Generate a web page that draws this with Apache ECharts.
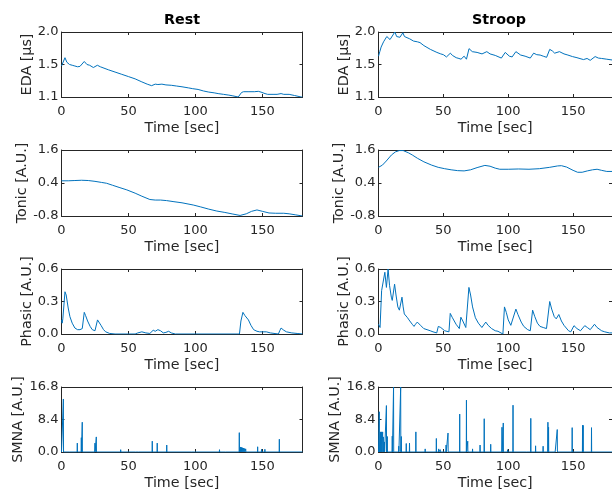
<!DOCTYPE html>
<html><head><meta charset="utf-8">
<script src="https://cdn.jsdelivr.net/npm/echarts@6/dist/echarts.min.js"></script>
<style>html,body{margin:0;padding:0;background:#fff}#c{width:612px;height:491px}</style>
</head><body><div id="c"></div><script>
// ---- data ----
var columnTitles = ['Rest', 'Stroop'];
var xLabel = 'Time [sec]';
var xTicks = [0, 50, 100, 150];
var xRange = [0, 180];

var rowNames = ['EDA [μs]', 'Tonic [A.U.]', 'Phasic [A.U.]', 'SMNA [A.U.]'];
var edaTicks = [1.1, 1.53, 1.96];
var tonicTicks = [-0.8, 0.4, 1.6];
var phasicTicks = [0.0, 0.3, 0.6];
var smnaTicks = [0.0, 8.4, 16.8];

var restEDA = [[0,1.51],[1,1.50],[2.6,1.62],[4,1.56],[6,1.53],[8,1.52],[10,1.51],[12,1.50],[13.8,1.505],[15,1.50],[17,1.57],[19,1.53],[21,1.52],[23.8,1.49],[26.8,1.52],[29,1.50],[35,1.46],[40,1.43],[45,1.40],[50,1.37],[55,1.34],[60,1.30],[64,1.27],[67.3,1.25],[70,1.27],[72,1.265],[75,1.27],[78,1.26],[82,1.255],[86,1.245],[90,1.235],[95,1.22],[98,1.21],[102,1.20],[106,1.18],[110,1.165],[114,1.155],[117,1.145],[121,1.135],[125,1.125],[128,1.115],[132,1.10],[133,1.10],[134.5,1.16],[136,1.17],[140,1.17],[144,1.17],[147,1.175],[149,1.165],[152,1.145],[154,1.135],[158,1.135],[161,1.135],[164,1.145],[166,1.135],[170,1.135],[174,1.12],[179,1.10],[180,1.10]];
var stroopEDA = [[0,1.64],[1,1.70],[2,1.76],[3.9,1.83],[5,1.81],[6.4,1.90],[7.5,1.88],[8.9,1.86],[10,1.88],[12.6,1.96],[14,1.90],[15.1,1.88],[16.5,1.89],[18.8,1.95],[20,1.90],[21.3,1.88],[24,1.87],[27,1.84],[30,1.83],[32,1.82],[35,1.78],[40,1.73],[45,1.69],[48,1.67],[50,1.66],[52.4,1.63],[55.4,1.68],[57,1.65],[59.9,1.62],[62,1.61],[63.6,1.60],[66,1.64],[67.8,1.60],[69.8,1.74],[72.3,1.70],[76,1.69],[79.8,1.67],[81,1.66],[83.5,1.70],[86,1.67],[90,1.65],[94.7,1.615],[97.7,1.69],[100.9,1.64],[103,1.63],[105.9,1.70],[109.6,1.655],[113,1.64],[117,1.615],[119.6,1.68],[122,1.66],[124.6,1.655],[127,1.64],[129.6,1.625],[132,1.73],[134,1.71],[135.8,1.68],[139.5,1.70],[143,1.67],[146,1.655],[149.5,1.635],[153,1.62],[158,1.595],[160.8,1.61],[163.2,1.585],[167,1.635],[169.5,1.615],[172,1.61],[176,1.60],[180,1.59]];

var restTonic = [[0,0.48],[5,0.48],[10,0.49],[15,0.50],[20,0.49],[25,0.46],[30,0.42],[33.7,0.39],[38,0.32],[43,0.24],[48.8,0.15],[55,0.03],[60,-0.08],[66,-0.20],[70,-0.22],[74,-0.22],[78.5,-0.24],[84,-0.28],[90,-0.32],[98.4,-0.40],[104,-0.47],[110,-0.55],[116,-0.62],[122,-0.67],[128,-0.73],[133.4,-0.78],[138,-0.72],[142,-0.63],[146,-0.58],[150,-0.63],[155,-0.69],[160,-0.70],[166,-0.70],[170,-0.72],[175,-0.76],[180,-0.80]];
var stroopTonic = [[0,0.97],[3,1.05],[6,1.20],[10,1.42],[13,1.53],[16,1.58],[19,1.58],[23,1.50],[26,1.42],[30,1.30],[35,1.17],[41,1.05],[46,0.97],[51,0.92],[56,0.88],[61,0.85],[66,0.84],[71,0.88],[76,0.96],[82,1.04],[86,1.01],[90,0.94],[93.5,0.90],[100,0.90],[108,0.91],[116,0.90],[124,0.92],[132,0.97],[138,1.02],[141,1.03],[145,0.98],[150,0.86],[153.5,0.79],[157,0.79],[161,0.84],[165,0.88],[168.5,0.90],[172,0.86],[176,0.82],[180,0.82]];

var restPhasic = [[0,0.13],[0.5,0.10],[1,0.14],[2.6,0.39],[3.5,0.36],[5,0.24],[6.3,0.16],[8,0.10],[10,0.055],[12,0.04],[13.8,0.04],[15,0.03],[15.5,0.05],[17,0.20],[18,0.17],[19.5,0.12],[21.4,0.07],[23,0.04],[25,0.03],[25.5,0.04],[26.9,0.13],[28,0.12],[29.5,0.08],[31.4,0.04],[33,0.02],[36,0.005],[40,0],[55,0],[57,0.01],[60,0.02],[63,0.01],[66,0.005],[68.5,0.035],[70,0.025],[72,0.04],[74,0.03],[76,0.01],[78,0.015],[80,0.025],[82,0.01],[85,0],[132.9,0],[134,0.12],[135.5,0.20],[137,0.17],[139.6,0.13],[141.5,0.08],[143.5,0.04],[146,0.025],[148,0.02],[150,0.02],[153,0.02],[156,0.01],[162,0],[163,0.03],[164,0.055],[166,0.035],[168,0.02],[172,0.01],[176,0.005],[180,0]];
var stroopPhasic = [[0,0.09],[1.2,0.06],[2.4,0.40],[3.7,0.41],[4.9,0.57],[6.1,0.43],[7.4,0.60],[8.5,0.45],[9.9,0.34],[10.6,0.31],[12.4,0.46],[13.5,0.36],[14.9,0.25],[16.1,0.22],[18.1,0.34],[19,0.25],[19.9,0.185],[21,0.17],[22.4,0.15],[23.5,0.13],[24.9,0.12],[26,0.09],[27.4,0.07],[28.5,0.09],[29.9,0.11],[31,0.10],[32.4,0.08],[34.9,0.05],[37.4,0.04],[39.9,0.03],[42,0.02],[44.9,0.01],[46.1,0.07],[48,0.06],[51,0.03],[54.3,0.02],[55.3,0.19],[57,0.15],[59.8,0.09],[62.3,0.05],[63.5,0.155],[65,0.12],[67.3,0.06],[68,0.05],[69.7,0.43],[71,0.36],[72.5,0.25],[74.7,0.15],[77,0.10],[79.7,0.06],[80.9,0.05],[82.7,0.11],[84.5,0.08],[87.2,0.05],[90,0.03],[92.1,0.025],[95.9,0],[97.1,0.25],[98.5,0.20],[100,0.13],[102,0.08],[103.4,0.07],[105.9,0.23],[107.5,0.18],[110,0.11],[112,0.07],[115,0.04],[117,0.03],[118.8,0.22],[120.5,0.16],[122.5,0.10],[124.5,0.07],[127,0.06],[129.5,0.05],[130.7,0.05],[132,0.30],[133.5,0.23],[135.5,0.16],[137,0.14],[139,0.18],[141,0.12],[143,0.08],[144.5,0.07],[146.5,0.03],[148.2,0.02],[150.7,0.077],[153,0.05],[155.7,0.03],[157,0.03],[159,0.077],[161,0.06],[163.2,0.04],[166.5,0.09],[168.5,0.06],[172,0.03],[174.4,0.02],[178,0.01],[180,0.01]];

var restSMNATimes =   [1.4, 6.3, 11.8, 14.8, 15.5, 25, 26, 44.2, 55.4, 57.6, 58.4, 67.8, 71.5, 78.6, 97.4, 99.5, 118, 122.6, 132.8, 133.6, 134.4, 135.2, 136, 136.8, 137.6, 146.5, 149.4, 151.9, 162.7];
var restSMNAHeights = [13.7, 0.5, 2.3, 3.7, 7.7, 2.3, 3.9, 0.6, 0.4, 0.5, 0.5, 2.8, 2.3, 1.8, 0.5, 0.5, 0.6, 0.3, 5.0, 1.3, 1.2, 1.1, 1.0, 0.9, 0.8, 1.35, 0.7, 0.7, 3.3];
var stroopSMNATimes =   [0.6, 1.5, 2.3, 3.2, 3.7, 4.6, 6.1, 6.8, 10.6, 11.6, 15.6, 17.1, 17.6, 21.4, 23.9, 28.8, 36, 44.6, 46.4, 47.6, 52.1, 53.6, 62.6, 67.8, 68.8, 72.5, 78.3, 81.5, 86.5, 95.2, 96.2, 99.5, 103.7, 114.4, 117.4, 121.1, 126.9, 130.6, 131.1, 136.3, 137.8, 149.3, 157.3, 157.8, 164.2];
var stroopSMNAHeights = [10.4, 5.2, 5.2, 5.2, 3.9, 2.6, 12.0, 4.0, 4.1, 16.8, 1.5, 16.8, 4.0, 2.2, 2.3, 5.2, 0.8, 3.5, 0.8, 0.6, 1.8, 4.9, 9.8, 13.4, 2.8, 0.8, 1.8, 8.6, 2.0, 6.4, 7.5, 0.6, 12.1, 0.3, 8.7, 1.6, 1.5, 7.7, 6.4, 0.5, 5.8, 6.3, 6.9, 6.9, 6.3];

// ---- build ----
function spikes(times, heights) {
  var out = [[0, 0]];
  for (var i = 0; i < times.length; i++) {
    out.push([times[i] - 0.12, 0], [times[i], heights[i]], [times[i] + 0.12, 0]);
  }
  out.push([180, 0]);
  return out;
}

var rowData = [
  [restEDA, stroopEDA],
  [restTonic, stroopTonic],
  [restPhasic, stroopPhasic],
  [spikes(restSMNATimes, restSMNAHeights), spikes(stroopSMNATimes, stroopSMNAHeights)]
];
var rowTicks = [edaTicks, tonicTicks, phasicTicks, smnaTicks];

// layout
var colLeft = [61.5, 378.5], plotW = 241;
var rowTop = [32, 150, 269, 387], rowH = [65, 66, 65, 66];
var nameGaps = [25, 30, 25, 33];

var TXT = '#262626', AX = '#262626', LINE = '#0072BD';
var FONT = 'DejaVu Sans';

var grids = [], xAxes = [], yAxes = [], series = [], titles = [];
for (var c = 0; c < 2; c++) {
  titles.push({
    text: columnTitles[c], left: colLeft[c] + plotW / 2, top: 13.5, padding: 0,
    textAlign: 'center',
    textStyle: {fontFamily: FONT, fontSize: 14.3, fontWeight: 'bold', color: '#000'}
  });
  for (var r = 0; r < 4; r++) {
    var gi = grids.length;
    var ticks = rowTicks[r];
    grids.push({left: colLeft[c], top: rowTop[r], width: plotW, height: rowH[r], containLabel: false});
    // bottom x
    xAxes.push({
      type: 'value', gridIndex: gi, min: xRange[0], max: xRange[1], position: 'bottom',
      name: xLabel, nameLocation: 'middle', nameGap: 24,
      nameTextStyle: {fontFamily: FONT, fontSize: 14.3, color: TXT},
      axisLine: {show: true, onZero: false, lineStyle: {color: AX, width: 1}},
      axisTick: {show: true, inside: true, length: 3, customValues: xTicks, lineStyle: {color: AX}},
      axisLabel: {show: true, margin: 8, customValues: xTicks, fontFamily: FONT, fontSize: 13, color: TXT},
      splitLine: {show: false}
    });
    // top x (mirror)
    xAxes.push({
      type: 'value', gridIndex: gi, min: xRange[0], max: xRange[1], position: 'top',
      axisLine: {show: true, onZero: false, lineStyle: {color: AX, width: 1}},
      axisTick: {show: true, inside: true, length: 3, customValues: xTicks, lineStyle: {color: AX}},
      axisLabel: {show: false},
      splitLine: {show: false}
    });
    // left y
    yAxes.push({
      type: 'value', gridIndex: gi, min: ticks[0], max: ticks[2], position: 'left',
      name: rowNames[r], nameLocation: 'middle', nameGap: nameGaps[r],
      nameTextStyle: {fontFamily: FONT, fontSize: 14.3, color: TXT},
      axisLine: {show: true, onZero: false, lineStyle: {color: AX, width: 1}},
      axisTick: {show: true, inside: true, length: 3, customValues: ticks, lineStyle: {color: AX}},
      axisLabel: {show: true, margin: 3, customValues: ticks, fontFamily: FONT, fontSize: 13, color: TXT,
        formatter: function (v) { return v.toFixed(1); }},
      splitLine: {show: false}
    });
    // right y (mirror)
    yAxes.push({
      type: 'value', gridIndex: gi, min: ticks[0], max: ticks[2], position: 'right',
      axisLine: {show: true, onZero: false, lineStyle: {color: AX, width: 1}},
      axisTick: {show: true, inside: true, length: 3, customValues: ticks, lineStyle: {color: AX}},
      axisLabel: {show: false},
      splitLine: {show: false}
    });
    series.push({
      type: 'line', xAxisIndex: gi * 2, yAxisIndex: gi * 2, data: rowData[r][c],
      showSymbol: false, symbol: 'none', clip: true, animation: false,
      lineStyle: {color: LINE, width: 1}
    });
  }
}

var chart = echarts.init(document.getElementById('c'), null, {renderer: 'canvas'});
chart.setOption({
  animation: false,
  backgroundColor: '#fff',
  title: titles,
  grid: grids,
  xAxis: xAxes,
  yAxis: yAxes,
  series: series
});
</script></body></html>
